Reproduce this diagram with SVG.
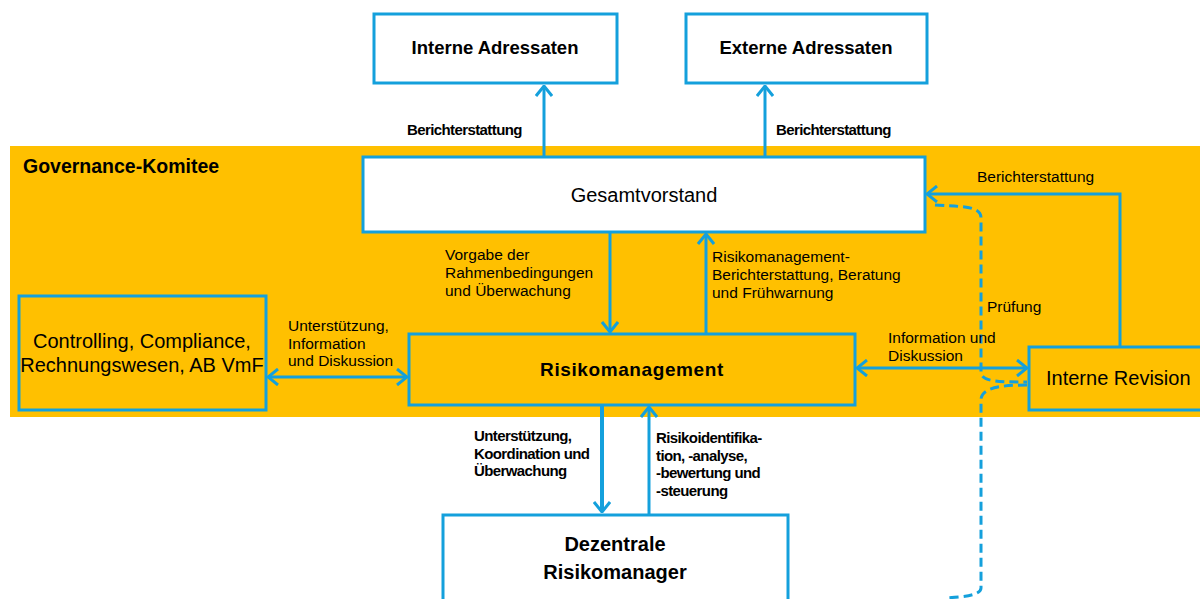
<svg xmlns="http://www.w3.org/2000/svg" width="1200" height="599" viewBox="0 0 1200 599">
<style>
text{font-family:"Liberation Sans",Arial,sans-serif;fill:#000}
.box{fill:#fff;stroke:#14A0DC;stroke-width:3}
.ybox{fill:#FFC000;stroke:#14A0DC;stroke-width:3}
.ln{fill:none;stroke:#14A0DC;stroke-width:3}
.dash{fill:none;stroke:#14A0DC;stroke-width:3;stroke-dasharray:9 5}
.t{font-size:20px}
.tb{font-size:19px;font-weight:bold}
.s{font-size:15.5px}
.sb{font-size:15px;font-weight:bold;letter-spacing:-0.6px}
</style>
<defs>
<marker id="ah" markerUnits="userSpaceOnUse" viewBox="0 0 12 18" refX="11" refY="9" markerWidth="12" markerHeight="18" orient="auto-start-reverse">
<path d="M1,1 L11,9 L1,17" fill="none" stroke="#14A0DC" stroke-width="3"/>
</marker>
</defs>
<rect x="10" y="146" width="1190" height="271" fill="#FFC000"/>
<text x="23" y="173" style="font-size:19.5px;font-weight:bold">Governance-Komitee</text>
<g id="connectors">
<line class="ln" x1="544" y1="157" x2="544" y2="86" marker-end="url(#ah)"/>
<line class="ln" x1="765" y1="157" x2="765" y2="86" marker-end="url(#ah)"/>
<line class="ln" x1="610" y1="232" x2="610" y2="332" marker-end="url(#ah)"/>
<line class="ln" x1="706" y1="334" x2="706" y2="234" marker-end="url(#ah)"/>
<line class="ln" x1="268" y1="377" x2="407" y2="377" marker-start="url(#ah)" marker-end="url(#ah)"/>
<line class="ln" x1="857" y1="368" x2="1027" y2="368" marker-start="url(#ah)" marker-end="url(#ah)"/>
<polyline class="ln" points="1120,347 1120,194 927,194" marker-end="url(#ah)"/>
<path class="dash" d="M935,205 C960,207 981,205 981,218 L981,372 C981,382 1000,382 1027,382"/>
<path class="dash" d="M1027,385 C1000,385 981,388 981,400 L981,588 C981,596 960,597 945,598"/>
<line class="ln" x1="602" y1="405" x2="602" y2="512" style="stroke-width:4" marker-end="url(#ah)"/>
<line class="ln" x1="649" y1="514" x2="649" y2="407" marker-end="url(#ah)"/>
</g>
<g id="interne-adressaten">
<rect class="box" x="374" y="14" width="243" height="69"/>
<text class="tb" x="495" y="54" text-anchor="middle" style="font-size:18.5px">Interne Adressaten</text>
</g>
<g id="externe-adressaten">
<rect class="box" x="686" y="14" width="241" height="69"/>
<text class="tb" x="806" y="54" text-anchor="middle" style="font-size:18.5px">Externe Adressaten</text>
</g>
<g id="gesamtvorstand">
<rect class="box" x="363" y="157" width="562" height="75"/>
<text class="t" x="644" y="202" text-anchor="middle">Gesamtvorstand</text>
</g>
<g id="controlling">
<rect class="ybox" x="19" y="296" width="247" height="114"/>
<text class="t" x="142" y="348" text-anchor="middle">Controlling, Compliance,</text>
<text class="t" x="142" y="372" text-anchor="middle">Rechnungswesen, AB VmF</text>
</g>
<g id="risikomanagement">
<rect class="ybox" x="409" y="334" width="446" height="71"/>
<text class="tb" x="632" y="376" text-anchor="middle" style="letter-spacing:0.6px">Risikomanagement</text>
</g>
<g id="interne-revision">
<rect class="ybox" x="1029" y="347" width="180" height="63"/>
<text class="t" x="1046" y="385">Interne Revision</text>
</g>
<g id="dezentrale">
<rect class="box" x="443" y="515" width="345" height="100"/>
<text class="tb" x="615" y="551" text-anchor="middle" style="font-size:20px">Dezentrale</text>
<text class="tb" x="615" y="579" text-anchor="middle" style="font-size:20px">Risikomanager</text>
</g>
<g id="labels">
<text class="sb" x="407" y="135">Berichterstattung</text>
<text class="sb" x="776" y="135">Berichterstattung</text>
<text class="s" x="977" y="182">Berichterstattung</text>
<text class="s" x="445" y="260">Vorgabe der</text>
<text class="s" x="445" y="278">Rahmenbedingungen</text>
<text class="s" x="445" y="296">und Überwachung</text>
<text class="s" x="712" y="262">Risikomanagement-</text>
<text class="s" x="712" y="280">Berichterstattung, Beratung</text>
<text class="s" x="712" y="298">und Frühwarnung</text>
<text class="s" x="288" y="331">Unterstützung,</text>
<text class="s" x="288" y="349">Information</text>
<text class="s" x="288" y="366">und Diskussion</text>
<text class="s" x="888" y="343">Information und</text>
<text class="s" x="888" y="361">Diskussion</text>
<text class="s" x="987" y="312">Prüfung</text>
<text class="sb" x="474" y="441">Unterstützung,</text>
<text class="sb" x="474" y="459">Koordination und</text>
<text class="sb" x="474" y="476">Überwachung</text>
<text class="sb" x="656" y="443">Risikoidentifika-</text>
<text class="sb" x="656" y="461">tion, -analyse,</text>
<text class="sb" x="656" y="478">-bewertung und</text>
<text class="sb" x="656" y="496">-steuerung</text>
</g>
</svg>
